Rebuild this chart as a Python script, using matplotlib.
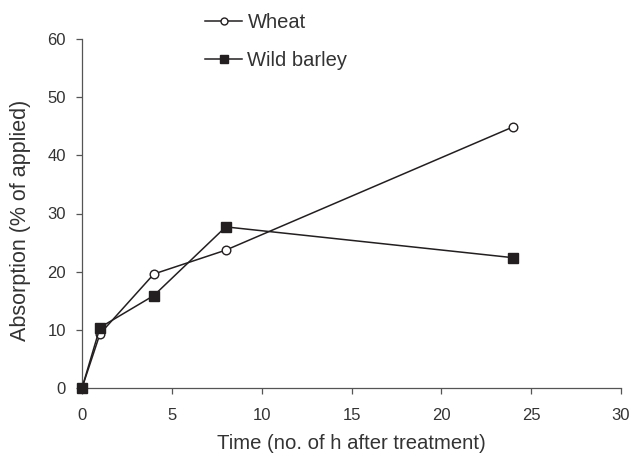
import matplotlib.pyplot as plt
from matplotlib.lines import Line2D

plt.rcParams['font.family'] = ['Liberation Sans', 'DejaVu Sans']

hours = [0, 1, 4, 8, 24]
wheat = [0, 9.3, 19.6, 23.7, 44.9]
wild_barley = [0, 10.4, 15.9, 27.7, 22.4]

x_ticks = [0, 5, 10, 15, 20, 25, 30]
y_ticks = [0, 10, 20, 30, 40, 50, 60]

INK = '#231f20'
TEXT = '#333333'

fig = plt.figure(figsize=(6.32, 4.57), dpi=100)
ax = fig.add_axes([82 / 632, 1 - 388 / 457, (621 - 82) / 632, (388 - 39) / 457])

ax.plot(hours, wheat, color=INK, lw=1.1, marker='o', ms=6.2,
        mfc='white', mec=INK, mew=1.0, clip_on=False, zorder=3)
ax.plot(hours, wild_barley, color=INK, lw=1.1, marker='s', ms=7.2,
        mfc=INK, mec=INK, clip_on=False, zorder=3)

ax.set_xlim(0, 30)
ax.set_ylim(0, 60)
ax.set_xticks(x_ticks)
ax.set_yticks(y_ticks)
for s in ('top', 'right'):
    ax.spines[s].set_visible(False)
for s in ('left', 'bottom'):
    ax.spines[s].set_color('#555555')
    ax.spines[s].set_linewidth(0.9)
ax.tick_params(direction='out', length=4, width=0.9, color='#555555',
               labelsize=12, labelcolor=TEXT)
ax.tick_params(axis='x', pad=10.5)
ax.tick_params(axis='y', pad=7.5)

ax.set_xlabel('Time (no. of h after treatment)', fontsize=14.6, color=TEXT, labelpad=8)
fig.text(21 / 632, 1 - 220 / 457, 'Absorption (% of applied)', fontsize=15.5,
         color=TEXT, rotation=90, ha='center', va='center')

handles = [
    Line2D([], [], color=INK, lw=1.1, marker='o', ms=5, mfc='white', mec=INK),
    Line2D([], [], color=INK, lw=1.1, marker='s', ms=6, mfc=INK, mec=INK),
]
leg = fig.legend(handles, ['Wheat', 'Wild barley'], loc='upper left',
                 bbox_to_anchor=(187 / 632, 1 + 5 / 457), frameon=False,
                 fontsize=14.5, handlelength=1.85, handletextpad=0.25,
                 labelspacing=0.95, labelcolor=TEXT)

fig.savefig('out.png', dpi=100)
